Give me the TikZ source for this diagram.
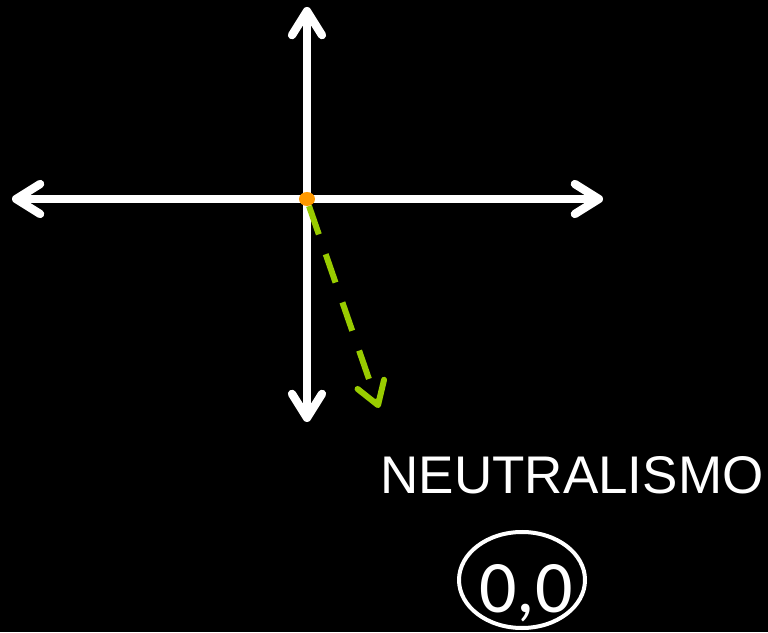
\documentclass[tikz,border=0pt]{standalone}
\usepackage{fontspec}
\setmainfont{Liberation Sans}
\newfontfamily\carlito{Carlito}
\usetikzlibrary{arrows.meta,shapes.geometric}
\definecolor{axgreen}{HTML}{99CC00}
\definecolor{dotorange}{HTML}{FF9900}
\begin{document}
\begin{tikzpicture}[x=1pt,y=1pt,
  axis/.style={draw=white,line width=8.3pt,-{Straight Barb[round,length=24pt,width=30pt]}},
  vec/.style={draw=axgreen,line width=6pt,dash pattern=on 30pt off 21pt,-{Straight Barb[round,length=22pt,width=28pt]}}]
\fill[black] (0,0) rectangle (768,632);
\useasboundingbox (0,0) rectangle (768,632);
\coordinate (O) at (307,433);
\coordinate (T) at (307,625);
\coordinate (B) at (307,210);
\coordinate (L) at (12,433);
\coordinate (R) at (603,433);
\coordinate (G0) at (309,426);
\coordinate (G1) at (379,224);
\draw[axis] (O) -- (T);
\draw[axis] (O) -- (B);
\draw[axis] (O) -- (L);
\draw[axis] (O) -- (R);
\draw[vec] (G0) -- (G1);
\node[fill=dotorange,shape=ellipse,minimum width=16pt,minimum height=14pt,inner sep=0pt] (dot) at (O) {};
\node[text=white,font=\fontsize{53}{60}\selectfont,anchor=base,inner sep=0pt] (lab) at (572,139) {NEUTRALISMO};
\draw[white,line width=4pt] (522,52) ellipse [x radius=63, y radius=48];
\node[text=white,font=\carlito\fontsize{74}{80}\selectfont,anchor=base,inner sep=0pt] (val) at (526,20) {0,0};
\end{tikzpicture}
\end{document}
